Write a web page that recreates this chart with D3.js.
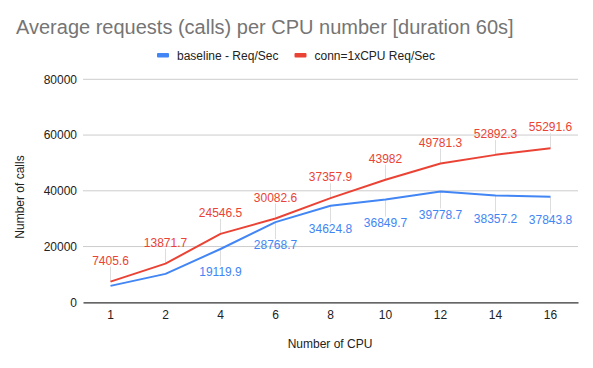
<!DOCTYPE html>
<html><head><meta charset="utf-8">
<script src="https://cdn.jsdelivr.net/npm/d3@7"></script>
<style>body{margin:0;background:#fff}svg{display:block;font-family:"Liberation Sans",Arial,sans-serif}</style>
</head><body><svg id="c" width="593" height="368"></svg>
<script>
const categories = ["1","2","4","6","8","10","12","14","16"];
const baseline = [5900, 10200, 19119.9, 28768.7, 34624.8, 36849.7, 39778.7, 38357.2, 37843.8];
const conn = [7405.6, 13871.7, 24546.5, 30082.6, 37357.9, 43982, 49781.3, 52892.3, 55291.6];
const baselineLabels = [null, null, "19119.9", "28768.7", "34624.8", "36849.7", "39778.7", "38357.2", "37843.8"];
const connLabels = ["7405.6", "13871.7", "24546.5", "30082.6", "37357.9", "43982", "49781.3", "52892.3", "55291.6"];
const yTicks = [0, 20000, 40000, 60000, 80000];
const seriesNames = ["baseline - Req/Sec", "conn=1xCPU Req/Sec"];
const colors = ["#4285f4", "#ea4335"];

const svg = d3.select("#c");
const x = d3.scaleBand().domain(categories).range([83, 578]);
const y = d3.scaleLinear().domain([0, 80000]).range([302.3, 79.3]);
const cx = d => x(d) + x.bandwidth() / 2;

// title
svg.append("text").attr("x", 16).attr("y", 34).attr("font-size", 20)
  .attr("fill", "#757575").text("Average requests (calls) per CPU number [duration 60s]");

// legend
const leg = [{x: 157, tx: 177}, {x: 294.5, tx: 314.5}];
seriesNames.forEach((n, i) => {
  svg.append("rect").attr("x", leg[i].x).attr("y", 53).attr("width", 12).attr("height", 4.5).attr("rx", 1).attr("fill", colors[i]);
  svg.append("text").attr("x", leg[i].tx).attr("y", 59.5).attr("font-size", 12)
    .attr("fill", "#222").text(n);
});

// gridlines
svg.append("g").selectAll("line").data(yTicks.filter(d => d > 0)).join("line")
  .attr("x1", 83).attr("x2", 578).attr("y1", d => y(d)).attr("y2", d => y(d))
  .attr("stroke", "#cccccc").attr("stroke-width", 1);

// y axis labels
const ya = svg.append("g").attr("transform", "translate(83,0)").call(d3.axisLeft(y).tickValues(yTicks).tickSize(0).tickPadding(6).tickFormat(d3.format("d")));
ya.select(".domain").remove();
ya.selectAll("text").attr("font-size", 12).attr("fill", "#222").attr("font-family", "Liberation Sans, Arial, sans-serif");

// x axis
const xa = svg.append("g").attr("transform", `translate(0,${y(0)})`).call(d3.axisBottom(x).tickSize(0).tickPadding(8));
xa.select(".domain").attr("stroke", "#333").attr("stroke-width", 1.2);
xa.selectAll("text").attr("font-size", 12).attr("fill", "#222").attr("font-family", "Liberation Sans, Arial, sans-serif");

// axis titles
svg.append("text").attr("x", 330).attr("y", 348).attr("text-anchor", "middle").attr("font-size", 12).attr("fill", "#222").text("Number of CPU");
svg.append("text").attr("transform", "translate(24,197) rotate(-90)").attr("text-anchor", "middle").attr("font-size", 12).attr("fill", "#222").text("Number of calls");

const line = d3.line().x((d, i) => cx(categories[i])).y(d => y(d));
const series = [baseline, conn];
const labels = [baselineLabels, connLabels];
const offs = [23, -21];

// leader lines
series.forEach((s, k) => {
  s.forEach((v, i) => {
    if (!labels[k][i]) return;
    const py = y(v), ly = py + offs[k];
    svg.append("line").attr("x1", cx(categories[i])).attr("x2", cx(categories[i]))
      .attr("y1", py).attr("y2", ly + (k === 0 ? -6 : 6))
      .attr("stroke", "#dddddd").attr("stroke-width", 1);
  });
});

series.forEach((s, k) => {
  svg.append("path").datum(s).attr("d", line).attr("fill", "none").attr("stroke", colors[k]).attr("stroke-width", 2).attr("stroke-linejoin", "round");
});

series.forEach((s, k) => {
  s.forEach((v, i) => {
    if (!labels[k][i]) return;
    svg.append("text").attr("x", cx(categories[i])).attr("y", y(v) + offs[k]).attr("dy", "0.35em")
      .attr("text-anchor", "middle").attr("font-size", 12).attr("fill", colors[k]).text(labels[k][i]);
  });
});
</script></body></html>
